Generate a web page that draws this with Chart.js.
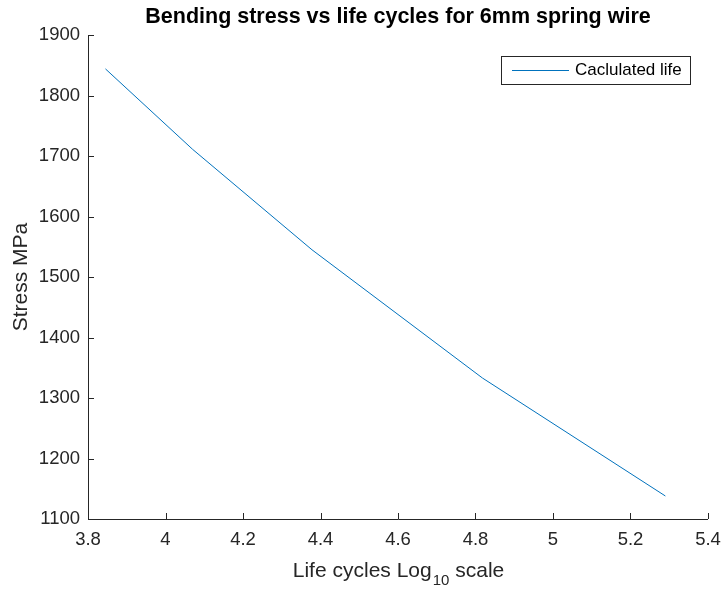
<!DOCTYPE html>
<html>
<head>
<meta charset="utf-8">
<script src="https://cdn.jsdelivr.net/npm/chart.js@4"></script>
<style>
html,body{margin:0;padding:0;background:#fff;}
#c{display:block;}
</style>
</head>
<body>
<canvas id="c" width="723" height="590"></canvas>
<script>
const logCycles = [3.845, 4.07, 4.378, 4.818, 5.29];
const stressMPa = [1844, 1711, 1545, 1333, 1138];
const xTicks = [3.8, 4, 4.2, 4.4, 4.6, 4.8, 5, 5.2, 5.4];
const yTicks = [1100, 1200, 1300, 1400, 1500, 1600, 1700, 1800, 1900];
const seriesName = 'Caclulated life';
const chartTitle = 'Bending stress vs life cycles for 6mm spring wire';
const xLabelMain = 'Life cycles Log';
const xLabelSub = '10';
const xLabelEnd = ' scale';
const yLabel = 'Stress MPa';

const FONT = '"Liberation Sans", Arial, Helvetica, sans-serif';
const AX = '#262626';
const LINE = '#0072BD';

const decor = {
  id: 'decor',
  afterDraw(chart) {
    const ctx = chart.ctx;
    const a = chart.chartArea;
    const xs = chart.scales.x, ys = chart.scales.y;
    ctx.save();
    ctx.strokeStyle = AX;
    ctx.lineWidth = 1;
    ctx.beginPath();
    ctx.moveTo(Math.round(a.left) + 0.5, a.top);
    ctx.lineTo(Math.round(a.left) + 0.5, Math.round(a.bottom) + 0.5);
    ctx.lineTo(a.right, Math.round(a.bottom) + 0.5);
    ctx.stroke();
    ctx.beginPath();
    xTicks.forEach(v => {
      const px = Math.round(xs.getPixelForValue(v)) + 0.5;
      ctx.moveTo(px, a.bottom);
      ctx.lineTo(px, a.bottom - 6);
    });
    yTicks.forEach(v => {
      const py = Math.round(ys.getPixelForValue(v)) + 0.5;
      ctx.moveTo(a.left, py);
      ctx.lineTo(a.left + 6, py);
    });
    ctx.stroke();
    ctx.fillStyle = AX;
    ctx.font = '18.5px ' + FONT;
    ctx.textAlign = 'center';
    ctx.textBaseline = 'middle';
    xTicks.forEach(v => {
      ctx.fillText(String(v), xs.getPixelForValue(v), a.bottom + 21);
    });
    ctx.textAlign = 'right';
    yTicks.forEach(v => {
      ctx.fillText(String(v), a.left - 8, ys.getPixelForValue(v));
    });
    ctx.fillStyle = '#000';
    ctx.font = 'bold 21.5px ' + FONT;
    ctx.textAlign = 'center';
    ctx.textBaseline = 'middle';
    ctx.fillText(chartTitle, (a.left + a.right) / 2, 17);
    ctx.fillStyle = AX;
    ctx.textAlign = 'left';
    ctx.textBaseline = 'alphabetic';
    const f1 = '21px ' + FONT, f2 = '15px ' + FONT;
    ctx.font = f1; const w1 = ctx.measureText(xLabelMain).width;
    const w3 = ctx.measureText(xLabelEnd).width;
    ctx.font = f2; const w2 = ctx.measureText(xLabelSub).width;
    let x0 = (a.left + a.right) / 2 - (w1 + w2 + w3) / 2;
    const base = 577;
    ctx.font = f1; ctx.fillText(xLabelMain, x0, base);
    ctx.font = f2; ctx.fillText(xLabelSub, x0 + w1 + 1, base + 8);
    ctx.font = f1; ctx.fillText(xLabelEnd, x0 + w1 + w2 + 1, base);
    ctx.translate(21, (a.top + a.bottom) / 2);
    ctx.rotate(-Math.PI / 2);
    ctx.textAlign = 'center';
    ctx.textBaseline = 'middle';
    ctx.font = '21px ' + FONT;
    ctx.fillText(yLabel, 0, 0);
    ctx.restore();
    ctx.save();
    const lx = 501.5, ly = 56.5, lw = 189, lh = 28;
    ctx.fillStyle = '#fff';
    ctx.fillRect(lx, ly, lw, lh);
    ctx.strokeStyle = AX;
    ctx.lineWidth = 1;
    ctx.strokeRect(lx, ly, lw, lh);
    ctx.strokeStyle = LINE;
    ctx.beginPath();
    ctx.moveTo(512, ly + 14);
    ctx.lineTo(569, ly + 14);
    ctx.stroke();
    ctx.fillStyle = '#000';
    ctx.font = '17px ' + FONT;
    ctx.textAlign = 'left';
    ctx.textBaseline = 'middle';
    ctx.fillText(seriesName, 575, ly + 14);
    ctx.restore();
  }
};

new Chart(document.getElementById('c'), {
  type: 'line',
  data: {
    datasets: [{
      label: seriesName,
      data: logCycles.map((x, i) => ({ x: x, y: stressMPa[i] })),
      borderColor: LINE,
      borderWidth: 1,
      pointRadius: 0,
      fill: false,
      tension: 0
    }]
  },
  options: {
    responsive: false,
    animation: false,
    devicePixelRatio: 1,
    layout: { padding: { left: 0, right: 15, top: 35, bottom: 0 } },
    plugins: { legend: { display: false }, title: { display: false }, tooltip: { enabled: false } },
    scales: {
      x: {
        type: 'linear', min: 3.8, max: 5.4,
        grid: { display: false },
        border: { display: false },
        ticks: { display: false },
        afterFit(s) { s.height = 71; }
      },
      y: {
        type: 'linear', min: 1100, max: 1900,
        grid: { display: false },
        border: { display: false },
        ticks: { display: false },
        afterFit(s) { s.width = 88; }
      }
    }
  },
  plugins: [decor]
});
</script>
</body>
</html>
